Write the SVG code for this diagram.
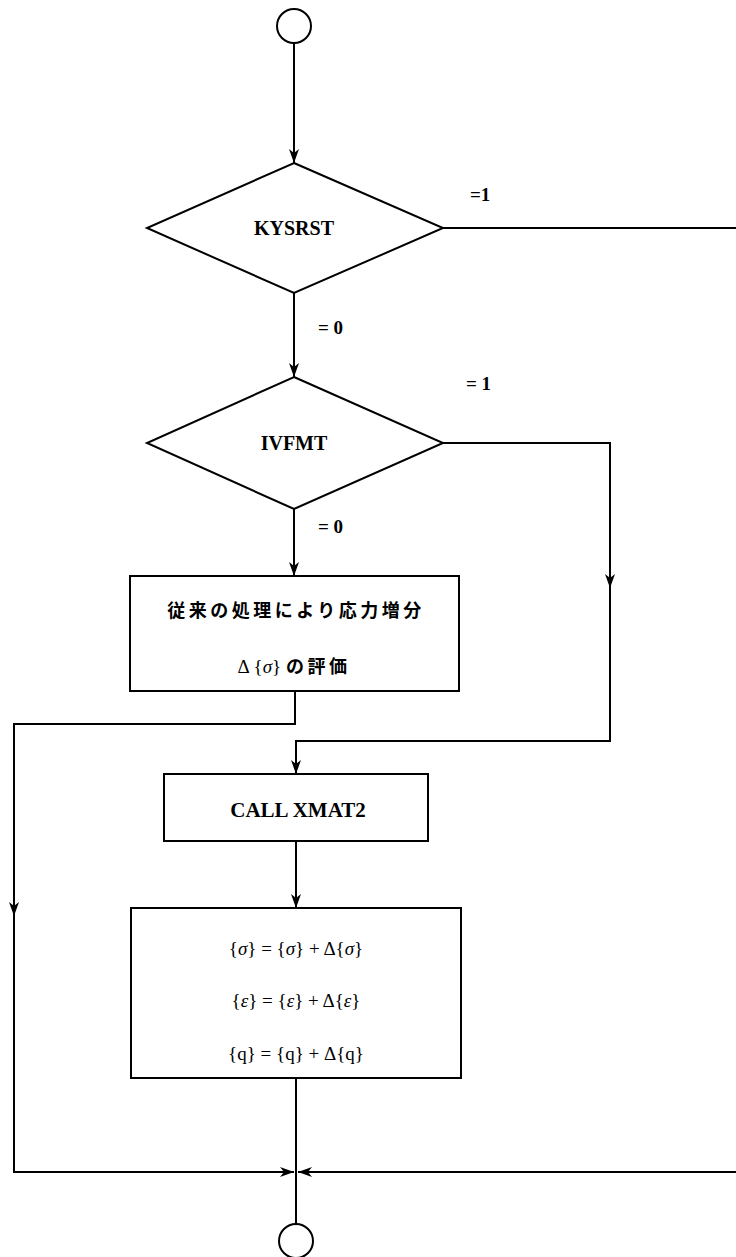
<svg xmlns="http://www.w3.org/2000/svg" width="736" height="1257" viewBox="0 0 736 1257">
<style>
.shape{fill:#fff;stroke:#000;stroke-width:2}
.conn{fill:none;stroke:#000;stroke-width:2}
.lbl{font-family:"Liberation Serif",serif;font-weight:bold;font-size:20px;fill:#000;text-anchor:middle}
.cond{font-family:"Liberation Serif",serif;font-weight:bold;font-size:19px;fill:#000}
.math{font-family:"Liberation Serif",serif;font-size:19px;fill:#000;text-anchor:middle}
.jp{font-family:"Noto Sans CJK JP",sans-serif;font-weight:bold;font-size:18px;fill:#000;text-anchor:middle;letter-spacing:3.5px}
.ser{font-family:"Liberation Serif",serif;font-weight:normal;letter-spacing:0;font-size:19px}
</style>
<defs>
<marker id="ah" viewBox="0 0 14 10" refX="14" refY="5" markerWidth="14" markerHeight="10" orient="auto" markerUnits="userSpaceOnUse">
<path d="M0,0 L14,5 L0,10 L4,5 z" fill="#000"/>
</marker>
</defs>
<rect width="736" height="1257" fill="#fff"/>
<g id="connectors">
<path class="conn" d="M294,43 V163" marker-end="url(#ah)"/>
<path class="conn" d="M443,228 H736"/>
<path class="conn" d="M294,293 V377" marker-end="url(#ah)"/>
<path class="conn" d="M443,443 H610 V588" marker-end="url(#ah)"/>
<path class="conn" d="M610,586 V741 H296 V774" marker-end="url(#ah)"/>
<path class="conn" d="M294,509 V576" marker-end="url(#ah)"/>
<path class="conn" d="M295,691 V724 H14 V916" marker-end="url(#ah)"/>
<path class="conn" d="M14,914 V1172 H294" marker-end="url(#ah)"/>
<path class="conn" d="M736,1172 H298" marker-end="url(#ah)"/>
<path class="conn" d="M296,841 V908" marker-end="url(#ah)"/>
<path class="conn" d="M296,1078 V1224"/>
<text class="cond" x="470" y="201">=1</text>
<text class="cond" x="318" y="334">= 0</text>
<text class="cond" x="466" y="390">= 1</text>
<text class="cond" x="318" y="533">= 0</text>
</g>
<g id="start">
<circle class="shape" cx="294" cy="26" r="17"/>
</g>
<g id="kysrst">
<polygon class="shape" points="294,163 443,228 294,293 147,228"/>
<text class="lbl" x="294" y="235">KYSRST</text>
</g>
<g id="ivfmt">
<polygon class="shape" points="294,377 443,443 294,509 147,443"/>
<text class="lbl" x="294" y="450">IVFMT</text>
</g>
<g id="conventional">
<rect class="shape" x="130" y="576" width="329" height="115"/>
<text class="jp" x="296" y="617">従来の処理により応力増分</text>
<text class="jp" x="294" y="673"><tspan class="ser">Δ {<tspan font-style="italic">σ</tspan>} </tspan>の評価</text>
</g>
<g id="xmat2">
<rect class="shape" x="164" y="774" width="264" height="67"/>
<text class="lbl" x="298" y="817" style="font-size:21px">CALL XMAT2</text>
</g>
<g id="update">
<rect class="shape" x="131" y="908" width="330" height="170"/>
<text class="math" x="296" y="955">{<tspan font-style="italic">σ</tspan>} = {<tspan font-style="italic">σ</tspan>} + Δ{<tspan font-style="italic">σ</tspan>}</text>
<text class="math" x="296" y="1007">{<tspan font-style="italic">ε</tspan>} = {<tspan font-style="italic">ε</tspan>} + Δ{<tspan font-style="italic">ε</tspan>}</text>
<text class="math" x="296" y="1060">{q} = {q} + Δ{q}</text>
</g>
<g id="end">
<circle class="shape" cx="296" cy="1241" r="17"/>
</g>
</svg>
